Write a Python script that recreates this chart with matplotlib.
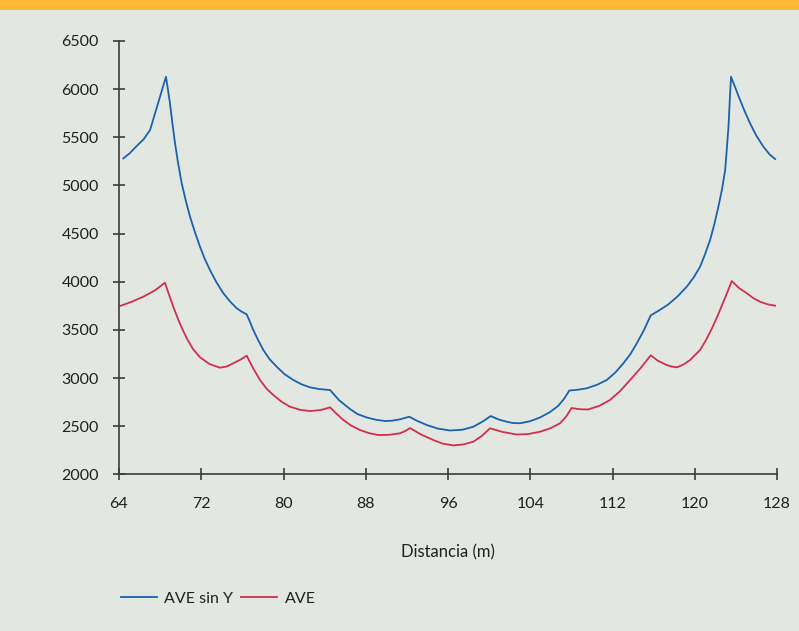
import matplotlib
matplotlib.use("Agg")
import matplotlib.pyplot as plt
from matplotlib.patches import Rectangle

# ---- data ----
x_ticks = [64, 72, 80, 88, 96, 104, 112, 120, 128]
y_ticks = [2000, 2500, 3000, 3500, 4000, 4500, 5000, 5500, 6000, 6500]
x_label = "Distancia (m)"
series_names = ["AVE sin Y", "AVE"]

ave_sin_y_x = [64.42, 65.0, 65.72, 66.4, 67.02, 68.57,
               68.96, 69.2, 69.45, 69.75, 70.10, 70.5, 70.91, 71.4, 71.88, 72.35, 72.85, 73.5,
               74.15, 74.8, 75.45, 75.95, 76.42,
               76.75, 77.06, 77.55, 78.04, 78.65, 79.34, 80.1, 80.96, 81.75, 82.58, 83.5, 84.53,
               85.4, 86.47, 87.2, 88.10, 89.0, 89.88, 90.6, 91.33, 92.24,
               93.0, 93.93, 95.0, 96.20, 97.4, 98.47, 99.4, 100.16,
               100.9, 101.71, 102.3, 103.01, 104.0, 104.95, 105.9, 106.70, 107.3, 107.80,
               108.6, 109.50, 110.5, 111.44, 112.3, 113.06, 113.75, 114.36, 115.05, 115.72,
               116.5, 117.41, 118.3, 119.22, 119.9, 120.52, 121.0, 121.49, 121.9, 122.30,
               122.65, 122.96, 123.12, 123.28, 123.44, 123.53,
               124.41, 124.9, 125.38, 126.0, 126.68, 127.3, 127.82]
ave_sin_y = [5281, 5330, 5409, 5480, 5575, 6129,
             5852, 5640, 5437, 5230, 5022, 4840, 4675, 4510, 4363, 4235, 4121, 3990,
             3880, 3795, 3724, 3688, 3661,
             3580, 3498, 3390, 3291, 3195, 3117, 3040, 2979, 2935, 2903, 2885, 2875,
             2770, 2678, 2625, 2590, 2566, 2553, 2557, 2571, 2598,
             2555, 2512, 2475, 2455, 2463, 2494, 2550, 2605,
             2570, 2546, 2533, 2530, 2552, 2590, 2645, 2709, 2785, 2870,
             2878, 2893, 2930, 2979, 3060, 3153, 3250, 3360, 3495, 3651,
             3700, 3763, 3845, 3948, 4045, 4156, 4285, 4433, 4595, 4779,
             4960, 5160, 5380, 5609, 5956, 6129,
             5887, 5760, 5645, 5515, 5402, 5320, 5274]

ave_x = [64.10, 65.2, 66.36, 67.5, 68.47,
         68.85, 69.28, 69.9, 70.59, 71.2, 71.88, 72.8, 73.82, 74.5, 75.12, 75.8, 76.42,
         77.05, 77.72, 78.35, 79.01, 79.8, 80.63, 81.6, 82.58, 83.6, 84.53,
         85.1, 85.82, 86.6, 87.44, 88.3, 89.19, 90.3, 91.33, 91.85, 92.30,
         93.4, 94.57, 95.5, 96.52, 97.5, 98.47, 99.3, 100.09,
         101.3, 102.69, 103.8, 104.95, 105.95, 106.90, 107.5, 108.02,
         108.8, 109.62, 110.7, 111.76, 112.75, 113.71, 114.75, 115.72,
         116.4, 117.28, 117.8, 118.28, 118.9, 119.55, 120.52, 121.1, 121.69, 122.2, 122.66,
         123.15, 123.60,
         124.3, 125.06, 125.7, 126.35, 127.1, 127.82]
ave = [3748, 3790, 3844, 3910, 3990,
       3870, 3740, 3570, 3412, 3300, 3215, 3145, 3107, 3120, 3153, 3190, 3232,
       3100, 2979, 2890, 2823, 2755, 2702, 2670, 2657, 2667, 2695,
       2635, 2564, 2505, 2460, 2428, 2408, 2410, 2426, 2450, 2480,
       2412, 2356, 2318, 2300, 2310, 2339, 2400, 2478,
       2440, 2413, 2418, 2442, 2478, 2530, 2600, 2688,
       2676, 2673, 2710, 2772, 2865, 2979, 3105, 3236,
       3180, 3135, 3118, 3111, 3140, 3187, 3291, 3395, 3519, 3640, 3758,
       3885, 4007,
       3935, 3880, 3830, 3792, 3765, 3751]

# ---- style ----
BG = "#e2e7e1"
ORANGE = "#fdb833"
BLUE = "#1a62ae"
RED = "#d22f4c"
AXC = "#3c3c3c"
TXT = "#231f20"
FONT = ["Lato", "DejaVu Sans"]

plt.rcParams["font.family"] = FONT

fig = plt.figure(figsize=(7.99, 6.31), dpi=100, facecolor=BG)
fig.patches.append(Rectangle((0, 1 - 10 / 631), 1, 10 / 631, transform=fig.transFigure,
                             facecolor=ORANGE, edgecolor="none", zorder=0))

ax = fig.add_axes([119 / 799, (631 - 474.3) / 631, (777 - 119) / 799, (474.3 - 41) / 631])
ax.set_facecolor(BG)

l1, = ax.plot(ave_sin_y_x, ave_sin_y, color=BLUE, lw=1.3, solid_joinstyle="round")
l2, = ax.plot(ave_x, ave, color=RED, lw=1.3, solid_joinstyle="round")

ax.set_xlim(64, 128)
ax.set_ylim(2000, 6500)
ax.set_xticks(x_ticks)
ax.set_yticks(y_ticks)
ax.set_xticklabels([str(v) for v in x_ticks])
ax.set_yticklabels([str(v) for v in y_ticks])

for s in ["top", "right"]:
    ax.spines[s].set_visible(False)
for s in ["left", "bottom"]:
    ax.spines[s].set_color(AXC)
    ax.spines[s].set_linewidth(1.2)

ax.tick_params(axis="y", direction="inout", length=9, width=1.2, color=AXC,
               labelsize=11.5, labelcolor=TXT, pad=10)
ax.tick_params(axis="x", direction="inout", length=9, width=1.2, color=AXC,
               labelsize=11.5, labelcolor=TXT, pad=12)

ax.set_xlabel(x_label, fontsize=12, color=TXT, labelpad=24)

fig.legend([l1, l2], series_names, loc="lower left", bbox_to_anchor=(107 / 799, 11 / 631),
           ncol=2, frameon=False, fontsize=11.5, handlelength=2.25, handletextpad=0.45,
           columnspacing=0.5, labelcolor=TXT)

fig.savefig("out.png", dpi=100, facecolor=BG)
